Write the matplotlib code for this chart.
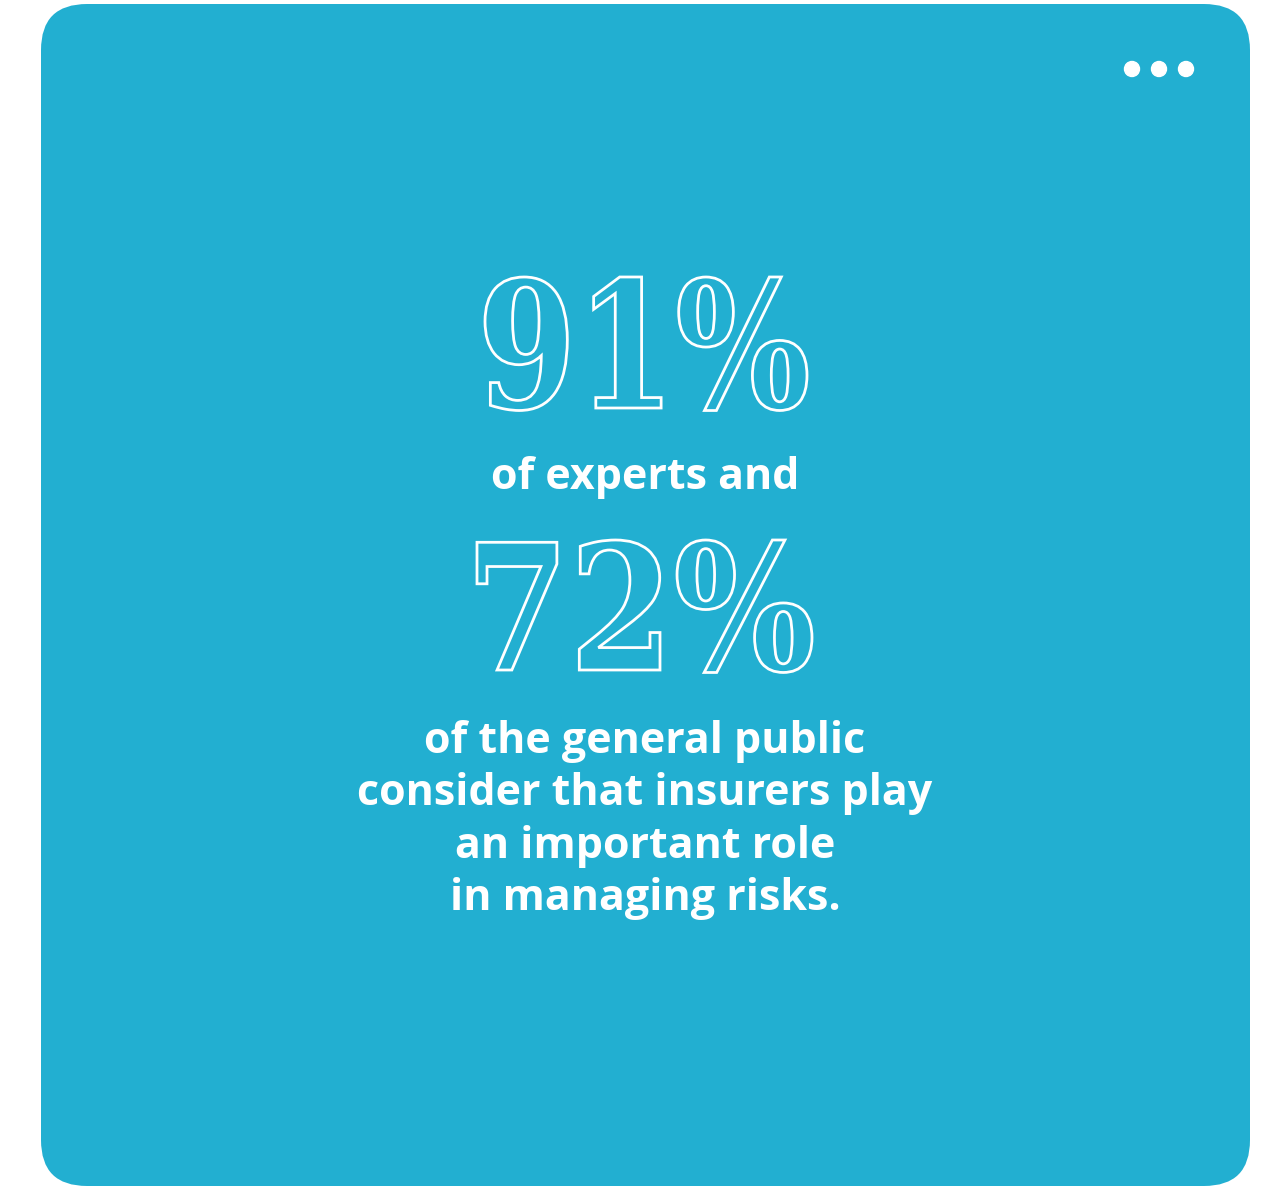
import matplotlib.pyplot as plt
from matplotlib.patches import FancyBboxPatch, Circle, PathPatch
from matplotlib.textpath import TextPath
from matplotlib.font_manager import FontProperties
from matplotlib.transforms import Affine2D

# Content
big_numbers = ['91%', '72%']
# ink box of each big number: left, right, top, baseline (pixels)
big_boxes = [(485, 807, 277, 408), (477, 812, 540, 670)]
mid_text = 'of experts and'
tail_lines = ['of the general public',
              'consider that insurers play',
              'an important role',
              'in managing risks.']

bg = '#22afd1'
W, H = 1275, 1186

fig = plt.figure(figsize=(W / 100, H / 100), dpi=100)
ax = fig.add_axes([0, 0, 1, 1])
ax.set_xlim(0, W)
ax.set_ylim(H, 0)
ax.axis('off')

# card with rounded corners
ax.add_patch(FancyBboxPatch((41, 4), 1209, 1182, boxstyle='round,pad=0,rounding_size=46',
                            facecolor=bg, edgecolor='none'))

# menu dots
for x in [1132, 1159, 1186]:
    ax.add_patch(Circle((x, 69), 7.5, color='white'))

serif = FontProperties(family='DejaVu Serif', weight='bold')


def outlined(s, box):
    # outline-only serif text fitted to its box
    x0, x1, top, base = box
    tp = TextPath((0, 0), s, size=100, prop=serif)
    bb = tp.get_extents()
    sx = (x1 - x0) / bb.width
    sy = (base - top) / bb.y1
    tr = Affine2D().translate(-bb.x0, 0).scale(sx, -sy).translate(x0, base)
    ax.add_patch(PathPatch(tr.transform_path(tp), facecolor='none',
                           edgecolor='white', lw=2))


for num, box in zip(big_numbers, big_boxes):
    outlined(num, box)

cx = 645
ax.text(cx, 489, mid_text, ha='center', va='baseline', fontsize=31,
        family='Open Sans', fontweight='bold', color='white')
for i, line in enumerate(tail_lines):
    ax.text(cx, 753 + 52.3 * i, line, ha='center', va='baseline', fontsize=31,
            family='Open Sans', fontweight='bold', color='white')

fig.savefig('out.png', dpi=100)
